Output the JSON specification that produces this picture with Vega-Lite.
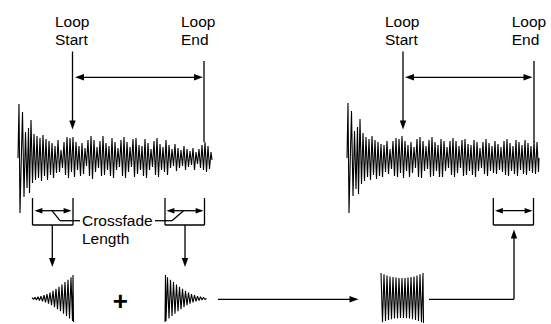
{
"$schema": "https://vega.github.io/schema/vega-lite/v6.json",
"width": 551, "height": 324,
"autosize": {"type": "fit", "contains": "padding"},
"padding": 0,
"background": "white",
"config": {"view": {"stroke": null}},
"datasets": {
"waves": [
{"g":"w1","x":18,"y":158},{"g":"w1","x":19,"y":104},{"g":"w1","x":20,"y":213},{"g":"w1","x":21.5,"y":150},{"g":"w1","x":22.5,"y":112},{"g":"w1","x":24,"y":197},{"g":"w1","x":25.5,"y":132},{"g":"w1","x":27,"y":188},{"g":"w1","x":28.5,"y":128},{"g":"w1","x":29.5,"y":193},{"g":"w1","x":31,"y":120},{"g":"w1","x":32.5,"y":183},{"g":"w1","x":34,"y":134},{"g":"w1","x":35.5,"y":180},{"g":"w1","x":37,"y":136},{"g":"w1","x":38.5,"y":178},{"g":"w1","x":40,"y":138},{"g":"w1","x":41.5,"y":181},{"g":"w1","x":43,"y":135},{"g":"w1","x":44.5,"y":176},{"g":"w1","x":46,"y":139},{"g":"w1","x":47.5,"y":180},{"g":"w1","x":49,"y":141},{"g":"w1","x":50.5,"y":175},{"g":"w1","x":52,"y":143},{"g":"w1","x":53.5,"y":178},{"g":"w1","x":55,"y":146},{"g":"w1","x":56.5,"y":173},{"g":"w1","x":58,"y":140},{"g":"w1","x":59.5,"y":172},{"g":"w1","x":61,"y":150},{"g":"w1","x":62.5,"y":168},{"g":"w1","x":64,"y":142},{"g":"w1","x":65.5,"y":175},{"g":"w1","x":67,"y":137},{"g":"w1","x":68.5,"y":178},{"g":"w1","x":70,"y":138},{"g":"w1","x":71.5,"y":172},{"g":"w1","x":73,"y":137},{"g":"w1","x":74.5,"y":177},{"g":"w1","x":76,"y":142},{"g":"w1","x":77.5,"y":170},{"g":"w1","x":79,"y":146},{"g":"w1","x":80.5,"y":176},{"g":"w1","x":82,"y":143},{"g":"w1","x":83.5,"y":174},{"g":"w1","x":85,"y":148},{"g":"w1","x":86.5,"y":166},{"g":"w1","x":88,"y":140},{"g":"w1","x":89.5,"y":176},{"g":"w1","x":91,"y":136},{"g":"w1","x":92.5,"y":179},{"g":"w1","x":94,"y":140},{"g":"w1","x":95.5,"y":172},{"g":"w1","x":97,"y":147},{"g":"w1","x":98.5,"y":168},{"g":"w1","x":100,"y":141},{"g":"w1","x":101.5,"y":176},{"g":"w1","x":103,"y":136},{"g":"w1","x":104.5,"y":175},{"g":"w1","x":106,"y":143},{"g":"w1","x":107.5,"y":170},{"g":"w1","x":109,"y":146},{"g":"w1","x":110.5,"y":176},{"g":"w1","x":112,"y":138},{"g":"w1","x":113.5,"y":178},{"g":"w1","x":115,"y":142},{"g":"w1","x":116.5,"y":170},{"g":"w1","x":118,"y":148},{"g":"w1","x":119.5,"y":167},{"g":"w1","x":121,"y":140},{"g":"w1","x":122.5,"y":176},{"g":"w1","x":124,"y":137},{"g":"w1","x":125.5,"y":178},{"g":"w1","x":127,"y":142},{"g":"w1","x":128.5,"y":172},{"g":"w1","x":130,"y":147},{"g":"w1","x":131.5,"y":167},{"g":"w1","x":133,"y":139},{"g":"w1","x":134.5,"y":177},{"g":"w1","x":136,"y":138},{"g":"w1","x":137.5,"y":174},{"g":"w1","x":139,"y":145},{"g":"w1","x":140.5,"y":170},{"g":"w1","x":142,"y":146},{"g":"w1","x":143.5,"y":176},{"g":"w1","x":145,"y":139},{"g":"w1","x":146.5,"y":178},{"g":"w1","x":148,"y":143},{"g":"w1","x":149.5,"y":170},{"g":"w1","x":151,"y":149},{"g":"w1","x":152.5,"y":167},{"g":"w1","x":154,"y":141},{"g":"w1","x":155.5,"y":175},{"g":"w1","x":157,"y":138},{"g":"w1","x":158.5,"y":177},{"g":"w1","x":160,"y":144},{"g":"w1","x":161.5,"y":170},{"g":"w1","x":163,"y":147},{"g":"w1","x":164.5,"y":172},{"g":"w1","x":166,"y":140},{"g":"w1","x":167.5,"y":175},{"g":"w1","x":169,"y":145},{"g":"w1","x":170.5,"y":168},{"g":"w1","x":172,"y":149},{"g":"w1","x":173.5,"y":166},{"g":"w1","x":175,"y":144},{"g":"w1","x":176.5,"y":171},{"g":"w1","x":178,"y":148},{"g":"w1","x":179.5,"y":168},{"g":"w1","x":181,"y":150},{"g":"w1","x":182.5,"y":166},{"g":"w1","x":184,"y":146},{"g":"w1","x":185.5,"y":170},{"g":"w1","x":187,"y":149},{"g":"w1","x":188.5,"y":167},{"g":"w1","x":190,"y":151},{"g":"w1","x":191.5,"y":165},{"g":"w1","x":193,"y":148},{"g":"w1","x":194.5,"y":170},{"g":"w1","x":196,"y":152},{"g":"w1","x":197.5,"y":164},{"g":"w1","x":199,"y":149},{"g":"w1","x":200.5,"y":168},{"g":"w1","x":202,"y":145},{"g":"w1","x":203.5,"y":170},{"g":"w1","x":205,"y":142},{"g":"w1","x":206.5,"y":172},{"g":"w1","x":208,"y":146},{"g":"w1","x":209.5,"y":169},{"g":"w1","x":211,"y":152},{"g":"w1","x":212,"y":160},
{"g":"w2","x":347,"y":158},{"g":"w2","x":348,"y":103},{"g":"w2","x":349,"y":213},{"g":"w2","x":350.5,"y":150},{"g":"w2","x":351.5,"y":111},{"g":"w2","x":353,"y":196},{"g":"w2","x":354.5,"y":131},{"g":"w2","x":356,"y":189},{"g":"w2","x":357.5,"y":127},{"g":"w2","x":358.5,"y":194},{"g":"w2","x":360,"y":119},{"g":"w2","x":361.5,"y":184},{"g":"w2","x":363,"y":133},{"g":"w2","x":364.5,"y":181},{"g":"w2","x":366,"y":137},{"g":"w2","x":367.5,"y":177},{"g":"w2","x":369,"y":139},{"g":"w2","x":370.5,"y":180},{"g":"w2","x":372,"y":136},{"g":"w2","x":373.5,"y":175},{"g":"w2","x":375,"y":140},{"g":"w2","x":376.5,"y":179},{"g":"w2","x":378,"y":142},{"g":"w2","x":379.5,"y":176},{"g":"w2","x":381,"y":144},{"g":"w2","x":382.5,"y":177},{"g":"w2","x":384,"y":145},{"g":"w2","x":385.5,"y":172},{"g":"w2","x":387,"y":141},{"g":"w2","x":388.5,"y":174},{"g":"w2","x":390,"y":149},{"g":"w2","x":391.5,"y":169},{"g":"w2","x":393,"y":141},{"g":"w2","x":394.5,"y":176},{"g":"w2","x":396,"y":138},{"g":"w2","x":397.5,"y":177},{"g":"w2","x":399,"y":139},{"g":"w2","x":400.5,"y":173},{"g":"w2","x":402,"y":136},{"g":"w2","x":403.5,"y":178},{"g":"w2","x":405,"y":141},{"g":"w2","x":406.5,"y":171},{"g":"w2","x":408,"y":145},{"g":"w2","x":409.5,"y":177},{"g":"w2","x":411,"y":142},{"g":"w2","x":412.5,"y":173},{"g":"w2","x":414,"y":147},{"g":"w2","x":415.5,"y":168},{"g":"w2","x":417,"y":139},{"g":"w2","x":418.5,"y":177},{"g":"w2","x":420,"y":137},{"g":"w2","x":421.5,"y":178},{"g":"w2","x":423,"y":141},{"g":"w2","x":424.5,"y":171},{"g":"w2","x":426,"y":146},{"g":"w2","x":427.5,"y":169},{"g":"w2","x":429,"y":140},{"g":"w2","x":430.5,"y":177},{"g":"w2","x":432,"y":137},{"g":"w2","x":433.5,"y":176},{"g":"w2","x":435,"y":142},{"g":"w2","x":436.5,"y":171},{"g":"w2","x":438,"y":145},{"g":"w2","x":439.5,"y":177},{"g":"w2","x":441,"y":139},{"g":"w2","x":442.5,"y":177},{"g":"w2","x":444,"y":141},{"g":"w2","x":445.5,"y":171},{"g":"w2","x":447,"y":147},{"g":"w2","x":448.5,"y":168},{"g":"w2","x":450,"y":141},{"g":"w2","x":451.5,"y":175},{"g":"w2","x":453,"y":138},{"g":"w2","x":454.5,"y":177},{"g":"w2","x":456,"y":141},{"g":"w2","x":457.5,"y":173},{"g":"w2","x":459,"y":146},{"g":"w2","x":460.5,"y":168},{"g":"w2","x":462,"y":140},{"g":"w2","x":463.5,"y":176},{"g":"w2","x":465,"y":139},{"g":"w2","x":466.5,"y":175},{"g":"w2","x":468,"y":144},{"g":"w2","x":469.5,"y":171},{"g":"w2","x":471,"y":145},{"g":"w2","x":472.5,"y":175},{"g":"w2","x":474,"y":140},{"g":"w2","x":475.5,"y":177},{"g":"w2","x":477,"y":142},{"g":"w2","x":478.5,"y":171},{"g":"w2","x":480,"y":148},{"g":"w2","x":481.5,"y":168},{"g":"w2","x":483,"y":142},{"g":"w2","x":484.5,"y":174},{"g":"w2","x":486,"y":139},{"g":"w2","x":487.5,"y":176},{"g":"w2","x":489,"y":143},{"g":"w2","x":490.5,"y":171},{"g":"w2","x":492,"y":146},{"g":"w2","x":493.5,"y":173},{"g":"w2","x":495,"y":141},{"g":"w2","x":496.5,"y":174},{"g":"w2","x":498,"y":144},{"g":"w2","x":499.5,"y":170},{"g":"w2","x":501,"y":147},{"g":"w2","x":502.5,"y":172},{"g":"w2","x":504,"y":141},{"g":"w2","x":505.5,"y":175},{"g":"w2","x":507,"y":139},{"g":"w2","x":508.5,"y":176},{"g":"w2","x":510,"y":143},{"g":"w2","x":511.5,"y":171},{"g":"w2","x":513,"y":146},{"g":"w2","x":514.5,"y":174},{"g":"w2","x":516,"y":140},{"g":"w2","x":517.5,"y":176},{"g":"w2","x":519,"y":142},{"g":"w2","x":520.5,"y":170},{"g":"w2","x":522,"y":145},{"g":"w2","x":523.5,"y":174},{"g":"w2","x":525,"y":140},{"g":"w2","x":526.5,"y":175},{"g":"w2","x":528,"y":143},{"g":"w2","x":529.5,"y":171},{"g":"w2","x":531,"y":146},{"g":"w2","x":532.5,"y":173},{"g":"w2","x":534,"y":141},{"g":"w2","x":535.5,"y":174},{"g":"w2","x":537,"y":142},{"g":"w2","x":538.5,"y":172},{"g":"w2","x":539,"y":158},
{"g":"e1","x":32,"y":297.5},{"g":"e1","x":33.5,"y":299.5},{"g":"e1","x":35,"y":297.3},{"g":"e1","x":36.5,"y":299.9},{"g":"e1","x":38,"y":296.8},{"g":"e1","x":39.5,"y":300.5},{"g":"e1","x":41,"y":296.1},{"g":"e1","x":42.5,"y":301.3},{"g":"e1","x":44,"y":295.2},{"g":"e1","x":45.5,"y":302.3},{"g":"e1","x":47,"y":294},{"g":"e1","x":48.5,"y":303.7},{"g":"e1","x":50,"y":292.5},{"g":"e1","x":51.5,"y":305.3},{"g":"e1","x":53,"y":290.8},{"g":"e1","x":54.5,"y":307.1},{"g":"e1","x":56,"y":288.9},{"g":"e1","x":57.5,"y":309.1},{"g":"e1","x":59,"y":286.8},{"g":"e1","x":60.5,"y":311.3},{"g":"e1","x":62,"y":284.5},{"g":"e1","x":63.5,"y":313.7},{"g":"e1","x":65,"y":282.1},{"g":"e1","x":66.5,"y":316.1},{"g":"e1","x":68,"y":279.7},{"g":"e1","x":69.5,"y":318.5},{"g":"e1","x":71,"y":277.3},{"g":"e1","x":72.5,"y":321},{"g":"e1","x":73,"y":275},{"g":"e1","x":73.5,"y":322},
{"g":"e2","x":165,"y":322},{"g":"e2","x":165.5,"y":275},{"g":"e2","x":166,"y":321},{"g":"e2","x":167.5,"y":277.3},{"g":"e2","x":169,"y":318.5},{"g":"e2","x":170.5,"y":279.7},{"g":"e2","x":172,"y":316.1},{"g":"e2","x":173.5,"y":282.1},{"g":"e2","x":175,"y":313.7},{"g":"e2","x":176.5,"y":284.5},{"g":"e2","x":178,"y":311.3},{"g":"e2","x":179.5,"y":286.8},{"g":"e2","x":181,"y":309.1},{"g":"e2","x":182.5,"y":288.9},{"g":"e2","x":184,"y":307.1},{"g":"e2","x":185.5,"y":290.8},{"g":"e2","x":187,"y":305.3},{"g":"e2","x":188.5,"y":292.5},{"g":"e2","x":190,"y":303.7},{"g":"e2","x":191.5,"y":294},{"g":"e2","x":193,"y":302.3},{"g":"e2","x":194.5,"y":295.2},{"g":"e2","x":196,"y":301.3},{"g":"e2","x":197.5,"y":296.1},{"g":"e2","x":199,"y":300.5},{"g":"e2","x":200.5,"y":296.8},{"g":"e2","x":202,"y":299.9},{"g":"e2","x":203.5,"y":297.3},{"g":"e2","x":205,"y":299.5},{"g":"e2","x":206.5,"y":298.5},
{"g":"e3","x":381,"y":273},{"g":"e3","x":382.5,"y":322.3},{"g":"e3","x":384,"y":274.3},{"g":"e3","x":385.5,"y":321.1},{"g":"e3","x":387,"y":275.4},{"g":"e3","x":388.5,"y":320.1},{"g":"e3","x":390,"y":276.4},{"g":"e3","x":391.5,"y":319.3},{"g":"e3","x":393,"y":277.1},{"g":"e3","x":394.5,"y":318.6},{"g":"e3","x":396,"y":277.6},{"g":"e3","x":397.5,"y":318.2},{"g":"e3","x":399,"y":277.9},{"g":"e3","x":400.5,"y":318},{"g":"e3","x":402,"y":278},{"g":"e3","x":403.5,"y":318},{"g":"e3","x":405,"y":277.9},{"g":"e3","x":406.5,"y":318.2},{"g":"e3","x":408,"y":277.6},{"g":"e3","x":409.5,"y":318.6},{"g":"e3","x":411,"y":277.1},{"g":"e3","x":412.5,"y":319.3},{"g":"e3","x":414,"y":276.4},{"g":"e3","x":415.5,"y":320.1},{"g":"e3","x":417,"y":275.4},{"g":"e3","x":418.5,"y":321.1},{"g":"e3","x":420,"y":274.3},{"g":"e3","x":421.5,"y":322.3},{"g":"e3","x":423,"y":273},{"g":"e3","x":423.5,"y":323}
],
"segs": [
{"x":72.5,"y":51.5,"x2":72.5,"y2":124},
{"x":204,"y":61,"x2":204,"y2":142},
{"x":78,"y":77.3,"x2":200,"y2":77.3},
{"x":32.5,"y":198,"x2":32.5,"y2":225},
{"x":73,"y":198,"x2":73,"y2":225},
{"x":32.5,"y":225,"x2":73,"y2":225},
{"x":37,"y":210.7,"x2":69,"y2":210.7},
{"x":52,"y":210.7,"x2":60,"y2":220.7},
{"x":60,"y":220.7,"x2":80,"y2":220.7},
{"x":52.3,"y":225,"x2":52.3,"y2":262},
{"x":165,"y":198,"x2":165,"y2":225},
{"x":204.5,"y":198,"x2":204.5,"y2":225},
{"x":165,"y":225,"x2":204.5,"y2":225},
{"x":169,"y":210.7,"x2":201,"y2":210.7},
{"x":155,"y":220.7,"x2":172,"y2":220.7},
{"x":172,"y":220.7,"x2":183.5,"y2":210.7},
{"x":185,"y":225,"x2":185,"y2":262},
{"x":218,"y":299.3,"x2":355,"y2":299.3},
{"x":429,"y":299.3,"x2":514,"y2":299.3},
{"x":514,"y":299.3,"x2":514,"y2":234},
{"x":493.3,"y":198,"x2":493.3,"y2":225},
{"x":533.5,"y":198,"x2":533.5,"y2":225},
{"x":493.3,"y":225,"x2":533.5,"y2":225},
{"x":497,"y":210.7,"x2":530,"y2":210.7},
{"x":403,"y":51.5,"x2":403,"y2":124},
{"x":534,"y":61,"x2":534,"y2":142},
{"x":408,"y":77.3,"x2":529,"y2":77.3}
],
"bigheads": [
{"x":72.5,"y":129.5,"dir":"down"},{"x":403,"y":129.5,"dir":"down"},
{"x":75,"y":77.3,"dir":"left"},{"x":203,"y":77.3,"dir":"right"},
{"x":405,"y":77.3,"dir":"left"},{"x":532.5,"y":77.3,"dir":"right"},
{"x":52.3,"y":267,"dir":"down"},{"x":185,"y":267,"dir":"down"},
{"x":358.5,"y":299.3,"dir":"right"},{"x":514,"y":229.5,"dir":"up"}
],
"smallheads": [
{"x":34.5,"y":210.7,"dir":"left"},{"x":71.5,"y":210.7,"dir":"right"},
{"x":166.5,"y":210.7,"dir":"left"},{"x":203.5,"y":210.7,"dir":"right"},
{"x":495,"y":210.7,"dir":"left"},{"x":532.5,"y":210.7,"dir":"right"}
],
"labels": [
{"x":55,"y":26.5,"t":"Loop"},{"x":55,"y":45,"t":"Start"},
{"x":181,"y":26.5,"t":"Loop"},{"x":181,"y":45,"t":"End"},
{"x":385,"y":26.5,"t":"Loop"},{"x":385,"y":45,"t":"Start"},
{"x":511.7,"y":26.5,"t":"Loop"},{"x":511.7,"y":45,"t":"End"},
{"x":82,"y":225.5,"t":"Crossfade"},{"x":82,"y":244,"t":"Length"}
],
"plus": [{"x":120.3,"y":309.5,"t":"+"}]
},
"layer": [
{
"data": {"name": "waves"},
"mark": {"type": "line", "color": "black", "strokeWidth": 1.1, "strokeJoin": "bevel"},
"encoding": {
"x": {"field": "x", "type": "quantitative", "scale": {"domain": [0, 551], "nice": false, "zero": false}, "axis": null},
"y": {"field": "y", "type": "quantitative", "scale": {"domain": [0, 324], "nice": false, "zero": false, "reverse": true}, "axis": null},
"detail": {"field": "g", "type": "nominal"}
}
},
{
"data": {"name": "segs"},
"mark": {"type": "rule", "color": "black", "strokeWidth": 1.3},
"encoding": {
"x": {"field": "x", "type": "quantitative", "scale": {"domain": [0, 551], "nice": false, "zero": false}, "axis": null},
"y": {"field": "y", "type": "quantitative", "scale": {"domain": [0, 324], "nice": false, "zero": false, "reverse": true}, "axis": null},
"x2": {"field": "x2"},
"y2": {"field": "y2"}
}
},
{
"data": {"name": "bigheads"},
"mark": {"type": "point", "filled": true, "color": "black", "opacity": 1, "strokeWidth": 0, "size": 64},
"encoding": {
"x": {"field": "x", "type": "quantitative", "scale": {"domain": [0, 551], "nice": false, "zero": false}, "axis": null},
"y": {"field": "y", "type": "quantitative", "scale": {"domain": [0, 324], "nice": false, "zero": false, "reverse": true}, "axis": null},
"shape": {"field": "dir", "type": "nominal", "scale": {"domain": ["right", "down", "left", "up"], "range": ["M0,0L-2.25,-0.8L-2.25,0.8Z", "M0,0L-0.8,-2.25L0.8,-2.25Z", "M0,0L2.25,-0.8L2.25,0.8Z", "M0,0L-0.8,2.25L0.8,2.25Z"]}, "legend": null}
}
},
{
"data": {"name": "smallheads"},
"mark": {"type": "point", "filled": true, "color": "black", "opacity": 1, "strokeWidth": 0, "size": 49},
"encoding": {
"x": {"field": "x", "type": "quantitative", "scale": {"domain": [0, 551], "nice": false, "zero": false}, "axis": null},
"y": {"field": "y", "type": "quantitative", "scale": {"domain": [0, 324], "nice": false, "zero": false, "reverse": true}, "axis": null},
"shape": {"field": "dir", "type": "nominal", "scale": {"domain": ["right", "down", "left", "up"], "range": ["M0,0L-2.25,-0.8L-2.25,0.8Z", "M0,0L-0.8,-2.25L0.8,-2.25Z", "M0,0L2.25,-0.8L2.25,0.8Z", "M0,0L-0.8,2.25L0.8,2.25Z"]}, "legend": null}
}
},
{
"data": {"name": "labels"},
"mark": {"type": "text", "align": "left", "baseline": "alphabetic", "font": "Liberation Sans", "fontSize": 15.5, "color": "black"},
"encoding": {
"x": {"field": "x", "type": "quantitative", "scale": {"domain": [0, 551], "nice": false, "zero": false}, "axis": null},
"y": {"field": "y", "type": "quantitative", "scale": {"domain": [0, 324], "nice": false, "zero": false, "reverse": true}, "axis": null},
"text": {"field": "t", "type": "nominal"}
}
},
{
"data": {"name": "plus"},
"mark": {"type": "text", "align": "center", "baseline": "alphabetic", "font": "Liberation Sans", "fontSize": 26, "fontWeight": "bold", "color": "black"},
"encoding": {
"x": {"field": "x", "type": "quantitative", "scale": {"domain": [0, 551], "nice": false, "zero": false}, "axis": null},
"y": {"field": "y", "type": "quantitative", "scale": {"domain": [0, 324], "nice": false, "zero": false, "reverse": true}, "axis": null},
"text": {"field": "t", "type": "nominal"}
}
}
]
}
